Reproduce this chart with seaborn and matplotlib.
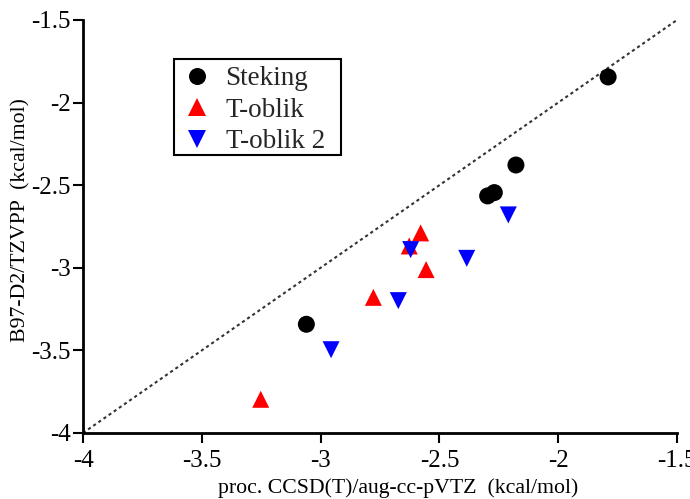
import matplotlib
matplotlib.use("Agg")
import matplotlib.pyplot as plt
from matplotlib.patches import Rectangle
import seaborn as sns
import pandas as pd

# Data
steking_x = [-1.79, -2.178, -2.269, -2.297, -3.060]
steking_y = [-1.845, -2.378, -2.545, -2.565, -3.342]
toblik_x = [-3.252, -2.778, -2.627, -2.579, -2.556]
toblik_y = [-3.796, -3.179, -2.868, -2.789, -3.011]
toblik2_x = [-2.956, -2.673, -2.621, -2.385, -2.210]
toblik2_y = [-3.496, -3.199, -2.890, -2.943, -2.680]
series_names = ["Steking", "T-oblik", "T-oblik 2"]
x_ticks = [-4, -3.5, -3, -2.5, -2, -1.5]
y_ticks = [-4, -3.5, -3, -2.5, -2, -1.5]
x_label = "proc. CCSD(T)/aug-cc-pVTZ  (kcal/mol)"
y_label = "B97-D2/TZVPP  (kcal/mol)"

df = pd.DataFrame({
    "x": steking_x + toblik_x + toblik2_x,
    "y": steking_y + toblik_y + toblik2_y,
    "series": [series_names[0]] * len(steking_x)
              + [series_names[1]] * len(toblik_x)
              + [series_names[2]] * len(toblik2_x),
})

sns.set_theme(style="ticks")
plt.rcParams["font.family"] = ["Liberation Serif", "DejaVu Serif"]

fig = plt.figure(figsize=(6.9, 4.99), dpi=100)
ax = fig.add_axes([0.1203, 0.1323, 0.8609, 0.8277])

ax.plot([-4, -1.5], [-4, -1.5], linestyle=(0, (1.5, 1.5)), color="#333333",
        linewidth=1.5, zorder=1)

sns.scatterplot(data=df, x="x", y="y", hue="series", style="series",
                hue_order=series_names, style_order=series_names,
                palette={"Steking": "black", "T-oblik": "#ff0000", "T-oblik 2": "#0000ff"},
                markers={"Steking": "o", "T-oblik": "^", "T-oblik 2": "v"},
                s=150, linewidth=0, ax=ax, zorder=3)

ax.set_xlim(-4, -1.5)
ax.set_ylim(-4, -1.5)
ax.set_xticks(x_ticks)
ax.set_yticks(y_ticks)
ax.set_xticklabels([f"{t:g}" for t in x_ticks])
ax.set_yticklabels([f"{t:g}" for t in y_ticks])
ax.tick_params(axis="both", direction="out", length=7, width=1.5,
               labelsize=18, colors="black", pad=2)
ax.tick_params(axis="x", pad=5)
for side in ["top", "right"]:
    ax.spines[side].set_visible(False)
for side in ["left", "bottom"]:
    ax.spines[side].set_linewidth(2)
    ax.spines[side].set_color("black")

ax.set_xlabel(x_label, fontsize=15.7, color="black")
ax.set_ylabel(y_label, fontsize=15.7, color="black")
ax.xaxis.set_label_coords(0.53, -0.11)
ax.yaxis.set_label_coords(-0.089, 0.516)

# legend frame box (drawn as a patch so its padding can match the reference)
frame = Rectangle((0.1532, 0.6731), 0.4343 - 0.1532, 0.9056 - 0.6731,
                  transform=ax.transAxes, facecolor="white", edgecolor="black",
                  linewidth=1.5, zorder=4, clip_on=False)
ax.add_patch(frame)

leg = ax.legend(loc="upper left", bbox_to_anchor=(0.153, 0.904), fontsize=19.5,
                frameon=False, handlelength=1.18, handletextpad=0.48,
                borderpad=0.25, labelspacing=0.24, markerscale=1.0,
                borderaxespad=0)
leg.set_zorder(5)

fig.savefig("out.png", dpi=100)
